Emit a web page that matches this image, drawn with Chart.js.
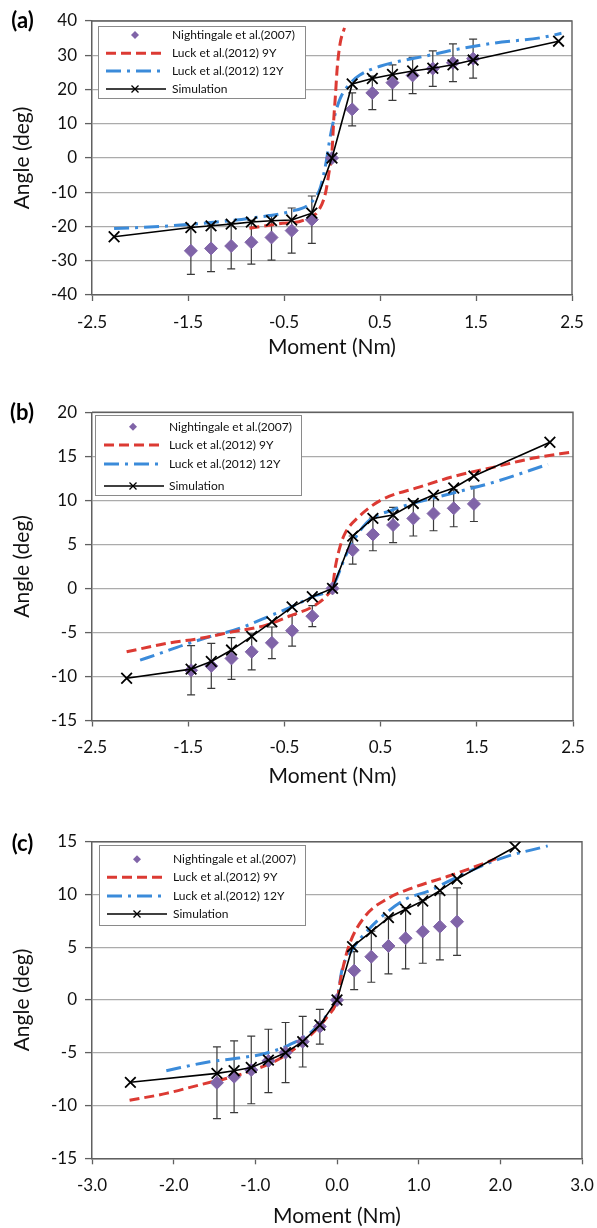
<!DOCTYPE html>
<html><head><meta charset="utf-8">
<script src="https://cdn.jsdelivr.net/npm/chart.js@4.4.0/dist/chart.umd.min.js"></script>
<style>
html,body{margin:0;padding:0;background:#fff;}
body{width:597px;height:1228px;position:relative;overflow:hidden;}
.panel{position:absolute;left:0;width:597px;}
</style></head><body>
<div class="panel" style="top:0px;height:365px"><canvas id="ca"></canvas></div>
<div class="panel" style="top:400px;height:395px"><canvas id="cb"></canvas></div>
<div class="panel" style="top:825px;height:403px"><canvas id="cc"></canvas></div>
<script>
// ---------- text ----------
const legendLabels = ['Nightingale et al.(2007)', 'Luck et al.(2012) 9Y', 'Luck et al.(2012) 12Y', 'Simulation'];
const panelLabels = ['(a)', '(b)', '(c)'];
const xTitle = 'Moment (Nm)';
const yTitle = 'Angle (deg)';

// ---------- tick labels ----------
const aXTicks = ['-2.5', '-1.5', '-0.5', '0.5', '1.5', '2.5'];
const aYTicks = [-40, -30, -20, -10, 0, 10, 20, 30, 40];
const bXTicks = ['-2.5', '-1.5', '-0.5', '0.5', '1.5', '2.5'];
const bYTicks = [-15, -10, -5, 0, 5, 10, 15, 20];
const cXTicks = ['-3.0', '-2.0', '-1.0', '0.0', '1.0', '2.0', '3.0'];
const cYTicks = [-15, -10, -5, 0, 5, 10, 15];

// ---------- panel (a) ----------
const aSimMoment = [-2.27, -1.47, -1.26, -1.05, -0.84, -0.63, -0.42, -0.21, 0, 0.21, 0.42, 0.63, 0.84, 1.05, 1.26, 1.47, 2.36];
const aSimAngle  = [-23.0, -20.3, -19.8, -19.3, -18.7, -18.3, -18.1, -16.1, 0, 21.6, 23.2, 24.4, 25.4, 26.2, 27.2, 28.6, 34.1];
const aExpMoment = [-1.47, -1.26, -1.05, -0.84, -0.63, -0.42, -0.21, 0, 0.21, 0.42, 0.63, 0.84, 1.05, 1.26, 1.47];
const aExpAngle  = [-27.1, -26.4, -25.7, -24.6, -23.2, -21.2, -18.0, 0, 14.2, 19.0, 22.0, 24.1, 26.1, 27.8, 29.0];
const aExpSD     = [6.9, 6.8, 6.7, 6.4, 6.6, 6.6, 6.9, 0, 4.8, 4.9, 5.2, 5.3, 5.2, 5.5, 5.7];
const a9YMoment  = [-0.86, -0.55, -0.3, -0.14, -0.07, -0.03, 0, 0.02, 0.035, 0.055, 0.085, 0.13];
const a9YAngle   = [-20.5, -19.2, -18.2, -15.3, -10.5, -4, 2, 12, 18, 26.5, 33.5, 38];
const a12YMoment = [-2.27, -1.8, -1.5, -1.2, -0.8, -0.45, -0.21, -0.12, -0.06, -0.02, 0.036, 0.087, 0.17, 0.29, 0.5, 0.71, 0.98, 1.26, 1.7, 2.17, 2.39];
const a12YAngle  = [-20.6, -20.0, -19.4, -18.7, -17.4, -15.7, -12.8, -8.5, -1, 6, 13.2, 17.5, 21.2, 24.2, 26.8, 28.3, 29.8, 31.5, 33.6, 35.1, 36.4];

// ---------- panel (b) ----------
const bSimMoment = [-2.14, -1.47, -1.26, -1.05, -0.84, -0.63, -0.42, -0.21, 0, 0.21, 0.42, 0.63, 0.84, 1.05, 1.26, 1.47, 2.26];
const bSimAngle  = [-10.2, -9.17, -8.3, -7.0, -5.45, -3.8, -2.09, -0.95, 0, 5.94, 7.95, 8.33, 9.65, 10.6, 11.4, 12.76, 16.6];
const bExpMoment = [-1.47, -1.26, -1.05, -0.84, -0.63, -0.42, -0.21, 0, 0.21, 0.42, 0.63, 0.84, 1.05, 1.26, 1.47];
const bExpAngle  = [-9.3, -8.8, -7.95, -7.2, -6.18, -4.8, -3.15, 0, 4.35, 6.13, 7.2, 7.95, 8.5, 9.1, 9.6];
const bExpSD     = [2.8, 2.55, 2.37, 2.05, 1.8, 1.75, 1.2, 0, 1.6, 1.85, 2.0, 2.0, 1.95, 2.1, 2.0];
const b9YMoment  = [-2.14, -1.73, -1.38, -1.04, -0.69, -0.42, -0.21, -0.05, 0, 0.03, 0.08, 0.13, 0.27, 0.5, 0.9, 1.29, 1.69, 2.09, 2.5];
const b9YAngle   = [-7.2, -6.25, -5.68, -4.93, -4.17, -3.03, -2.09, -0.7, 0.2, 2.45, 4.8, 6.25, 8.1, 10.0, 11.5, 12.8, 13.8, 14.8, 15.5];
const b12YMoment = [-2.0, -1.8, -1.55, -1.28, -0.97, -0.63, -0.45, -0.2, 0, 0.15, 0.35, 0.62, 1.1, 1.69, 2.24];
const b12YAngle  = [-8.15, -7.4, -6.44, -5.5, -4.55, -3.03, -2.2, -0.9, 0.2, 4.0, 7.4, 8.9, 10.4, 12.1, 14.1];

// ---------- panel (c) ----------
const cSimMoment = [-2.53, -1.47, -1.26, -1.05, -0.84, -0.63, -0.42, -0.21, 0, 0.19, 0.42, 0.63, 0.84, 1.05, 1.26, 1.47, 2.18];
const cSimAngle  = [-7.8, -6.95, -6.7, -6.4, -5.7, -5.0, -3.95, -2.37, 0, 5.05, 6.48, 7.8, 8.6, 9.38, 10.36, 11.47, 14.5];
const cExpMoment = [-1.47, -1.26, -1.05, -0.84, -0.63, -0.42, -0.21, 0, 0.21, 0.42, 0.63, 0.84, 1.05, 1.26, 1.47];
const cExpAngle  = [-7.84, -7.27, -6.63, -5.77, -4.98, -3.95, -2.53, 0, 2.78, 4.1, 5.12, 5.85, 6.48, 6.95, 7.42];
const cExpSD     = [3.4, 3.4, 3.2, 3.0, 2.85, 2.4, 1.65, 0, 1.8, 2.42, 2.65, 2.9, 3.0, 3.15, 3.2];
const c9YMoment  = [-2.54, -2.09, -1.69, -1.28, -1.08, -0.67, -0.39, -0.12, 0, 0.05, 0.14, 0.34, 0.62, 0.95, 1.35, 1.68, 1.95];
const c9YAngle   = [-9.5, -8.85, -8.06, -7.27, -6.8, -5.43, -3.8, -1.58, 0, 2.2, 5.0, 7.9, 9.6, 10.7, 11.7, 12.6, 13.4];
const c12YMoment = [-2.09, -1.56, -1.2, -0.87, -0.59, -0.31, -0.1, 0, 0.06, 0.18, 0.42, 0.83, 1.15, 1.35, 2.0, 2.58];
const c12YAngle  = [-6.7, -5.85, -5.5, -5.05, -4.27, -3.0, -1.2, 0, 2.8, 4.7, 6.95, 9.5, 10.4, 11.2, 13.4, 14.6];

// ---------- styles ----------
const FONT = 'Lato, "Open Sans", "DejaVu Sans", sans-serif';
const COL_EXP = '#8064A8';
const COL_9Y = '#DC3A33';
const COL_12Y = '#3B8BDA';
const DASH_9Y = [10, 5];
const DASH_12Y = [15, 6, 3, 6];
const AXIS_COL = '#606060';

const zip = (xs, ys) => xs.map((x, i) => ({x: x, y: ys[i]}));

const errorBars = {
  id: 'errorBars',
  beforeDatasetsDraw(chart) {
    const ctx = chart.ctx, ys = chart.scales.y;
    chart.data.datasets.forEach((d, i) => {
      if (!d.errors) return;
      const meta = chart.getDatasetMeta(i);
      ctx.save();
      ctx.strokeStyle = '#3a3a3a';
      ctx.lineWidth = 1.2;
      meta.data.forEach((pt, j) => {
        const e = d.errors[j];
        if (!e) return;
        const v = d.data[j].y;
        const y1 = ys.getPixelForValue(v + e), y2 = ys.getPixelForValue(v - e);
        const x = pt.x;
        ctx.beginPath();
        ctx.moveTo(x, y1); ctx.lineTo(x, y2);
        ctx.moveTo(x - 4, y1); ctx.lineTo(x + 4, y1);
        ctx.moveTo(x - 4, y2); ctx.lineTo(x + 4, y2);
        ctx.stroke();
      });
      ctx.restore();
    });
  }
};

const frame = {
  id: 'frame',
  beforeDatasetsDraw(chart) {
    const {ctx, chartArea: a} = chart;
    ctx.save();
    ctx.strokeStyle = AXIS_COL;
    ctx.lineWidth = 1.4;
    ctx.beginPath();
    ctx.moveTo(a.left, a.top); ctx.lineTo(a.right, a.top); ctx.lineTo(a.right, a.bottom);
    ctx.stroke();
    ctx.restore();
  }
};

function drawDiamond(ctx, x, y, r, color) {
  ctx.beginPath();
  ctx.moveTo(x, y - r); ctx.lineTo(x + r, y); ctx.lineTo(x, y + r); ctx.lineTo(x - r, y); ctx.closePath();
  ctx.fillStyle = color; ctx.fill();
}
function drawCross(ctx, x, y, r) {
  ctx.beginPath();
  ctx.moveTo(x - r, y - r); ctx.lineTo(x + r, y + r);
  ctx.moveTo(x - r, y + r); ctx.lineTo(x + r, y - r);
  ctx.stroke();
}

const boxLegend = {
  id: 'boxLegend',
  afterDraw(chart) {
    const L = chart.options.plugins.boxLegend;
    if (!L) return;
    const ctx = chart.ctx;
    ctx.save();
    // panel label
    ctx.font = 'bold 22px ' + FONT;
    ctx.fillStyle = '#000';
    ctx.textAlign = 'center';
    ctx.textBaseline = 'middle';
    ctx.fillText(L.panel, L.panelX, L.panelY);
    // box
    ctx.fillStyle = '#fff';
    ctx.fillRect(L.box[0], L.box[1], L.box[2], L.box[3]);
    ctx.strokeStyle = '#8a8a8a';
    ctx.lineWidth = 1;
    ctx.strokeRect(L.box[0] + 0.5, L.box[1] + 0.5, L.box[2], L.box[3]);
    ctx.font = '12px ' + FONT;
    ctx.textAlign = 'left';
    ctx.textBaseline = 'middle';
    legendLabels.forEach((t, i) => {
      const y = L.rows[i];
      if (i === 0) {
        drawDiamond(ctx, L.mx, y, 4, COL_EXP);
      } else if (i === 1 || i === 2) {
        ctx.strokeStyle = i === 1 ? COL_9Y : COL_12Y;
        ctx.lineWidth = 3;
        ctx.setLineDash(i === 1 ? DASH_9Y : DASH_12Y);
        ctx.beginPath(); ctx.moveTo(L.x1, y); ctx.lineTo(L.x2, y); ctx.stroke();
        ctx.setLineDash([]);
      } else {
        ctx.strokeStyle = '#000';
        ctx.lineWidth = 1.6;
        ctx.beginPath(); ctx.moveTo(L.x1, y); ctx.lineTo(L.x2, y); ctx.stroke();
        ctx.lineWidth = 1.3;
        drawCross(ctx, L.mx, y, 3.5);
      }
      ctx.fillStyle = '#111';
      ctx.fillText(t, L.tx, y);
    });
    ctx.restore();
  }
};

function makeChart(id, P) {
  const datasets = [
    {label: legendLabels[3], data: zip(P.simX, P.simY), showLine: true,
     borderColor: '#000', borderWidth: 1.6, pointStyle: 'crossRot', pointRadius: 7.5,
     pointBorderWidth: 1.8, pointBorderColor: '#000', pointBackgroundColor: '#000', order: 0},
    {label: legendLabels[0], data: zip(P.expX, P.expY), showLine: false, errors: P.expSD,
     pointStyle: 'rectRot', pointRadius: 6.5, pointBackgroundColor: COL_EXP, pointBorderColor: COL_EXP,
     pointBorderWidth: 1, order: 1},
    {label: legendLabels[1], data: zip(P.x9, P.y9), showLine: true, borderColor: COL_9Y, borderWidth: 3,
     borderDash: DASH_9Y, pointRadius: 0, cubicInterpolationMode: 'monotone', order: 2},
    {label: legendLabels[2], data: zip(P.x12, P.y12), showLine: true, borderColor: COL_12Y, borderWidth: 3,
     borderDash: DASH_12Y, pointRadius: 0, cubicInterpolationMode: 'monotone', order: 3}
  ];
  const xVals = P.xTicks.map(Number);
  return new Chart(document.getElementById(id), {
    type: 'scatter',
    data: {datasets},
    plugins: [errorBars, frame, boxLegend],
    options: {
      responsive: true, maintainAspectRatio: false, animation: false,
      events: [],
      layout: {padding: {left: 0, right: 597 - P.plotRight, top: P.plotTop, bottom: 0}},
      plugins: {legend: {display: false}, tooltip: {enabled: false}, boxLegend: P.legend},
      scales: {
        x: {
          type: 'linear', min: xVals[0], max: xVals[xVals.length - 1],
          afterBuildTicks: s => { s.ticks = xVals.map(v => ({value: v})); },
          afterFit: s => { s.height = P.xAxisH; s.paddingLeft = 0; s.paddingRight = 0; },
          ticks: {callback: (v, i) => P.xTicks[i], font: {size: 17, family: FONT}, color: '#111', padding: 11, maxRotation: 0, autoSkip: false},
          grid: {display: true, drawOnChartArea: false, drawTicks: true, tickLength: 6, tickColor: AXIS_COL, tickWidth: 1.3},
          border: {display: true, color: AXIS_COL, width: 1.5},
          title: {display: true, text: xTitle, font: {size: 21, family: FONT, lineHeight: 1}, color: '#111', padding: {top: 0, bottom: P.xTitlePad}}
        },
        y: {
          type: 'linear', min: P.yTicks[0], max: P.yTicks[P.yTicks.length - 1],
          afterBuildTicks: s => { s.ticks = P.yTicks.map(v => ({value: v})); },
          afterFit: s => { s.width = P.plotLeft; s.paddingTop = 0; s.paddingBottom = 0; },
          ticks: {font: {size: 17, family: FONT}, color: '#111', padding: 8},
          grid: {color: '#ababab', lineWidth: 1.2, drawTicks: true, tickLength: 7, tickColor: AXIS_COL, tickWidth: 1.3},
          border: {display: true, color: AXIS_COL, width: 1.5},
          title: {display: true, text: yTitle, font: {size: 21, family: FONT, lineHeight: 1}, color: '#111', padding: {top: 12, bottom: 0}}
        }
      }
    }
  });
}

makeChart('ca', {
  simX: aSimMoment, simY: aSimAngle, expX: aExpMoment, expY: aExpAngle, expSD: aExpSD,
  x9: a9YMoment, y9: a9YAngle, x12: a12YMoment, y12: a12YAngle,
  xTicks: aXTicks, yTicks: aYTicks,
  plotLeft: 92, plotRight: 572, plotTop: 21, xAxisH: 365 - 295, xTitlePad: 7.5,
  legend: {panel: panelLabels[0], panelX: 22.5, panelY: 21, box: [98, 26, 207, 72],
           rows: [35, 53.3, 71, 89], x1: 106, x2: 166, mx: 135, tx: 172}
});
makeChart('cb', {
  simX: bSimMoment, simY: bSimAngle, expX: bExpMoment, expY: bExpAngle, expSD: bExpSD,
  x9: b9YMoment, y9: b9YAngle, x12: b12YMoment, y12: b12YAngle,
  xTicks: bXTicks, yTicks: bYTicks,
  plotLeft: 92, plotRight: 573, plotTop: 12.3, xAxisH: 395 - 320.5, xTitlePad: 7.8,
  legend: {panel: panelLabels[1], panelX: 22, panelY: 13, box: [95, 15, 206, 80],
           rows: [26.7, 45, 64, 86], x1: 104, x2: 164, mx: 133, tx: 169}
});
makeChart('cc', {
  simX: cSimMoment, simY: cSimAngle, expX: cExpMoment, expY: cExpAngle, expSD: cExpSD,
  x9: c9YMoment, y9: c9YAngle, x12: c12YMoment, y12: c12YAngle,
  xTicks: cXTicks, yTicks: cYTicks,
  plotLeft: 92, plotRight: 582, plotTop: 16.7, xAxisH: 403 - 333.3, xTitlePad: 0.8,
  legend: {panel: panelLabels[2], panelX: 22.5, panelY: 19, box: [99, 20, 206, 80],
           rows: [34.3, 52.3, 71, 89], x1: 107, x2: 167, mx: 137, tx: 173}
});
</script>
</body></html>
